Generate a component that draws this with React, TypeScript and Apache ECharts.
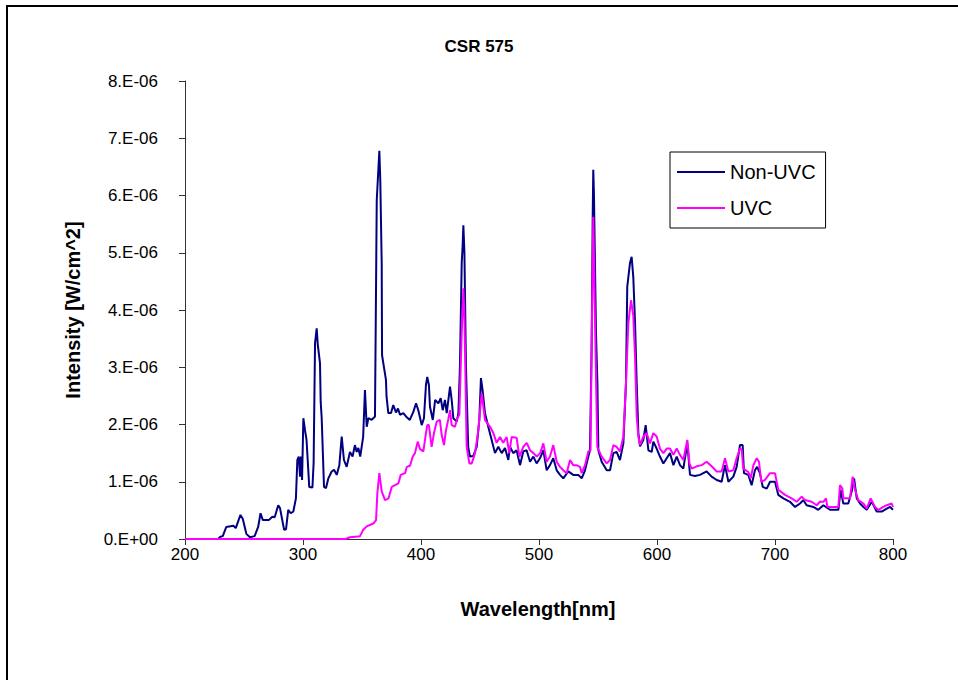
import React, { useEffect, useRef } from "react";
import * as echarts from "echarts";

// Intensity values are in units of 1E-06 W/cm^2
const nonUvcPoints: [number, number][] = [
  [200, 0], [228, 0], [230, 0.04], [232, 0.05], [235, 0.21], [241, 0.23], [243, 0.19], [247, 0.42], [249, 0.35],
  [252, 0.09], [255, 0.03], [259, 0.05], [262, 0.21], [264, 0.45], [266, 0.33], [271, 0.33], [274, 0.39], [276, 0.38],
  [279, 0.59], [280.5, 0.54], [284, 0.16], [285.6, 0.17], [287.5, 0.51], [289.6, 0.45], [291.8, 0.48], [294, 0.71],
  [295.2, 1.38], [296.4, 1.44], [297.5, 1.09], [298.3, 1.44], [299.2, 1.03], [300.3, 2.11], [301.7, 1.9], [303, 1.73],
  [305.3, 0.91], [308, 0.9], [309, 1.33], [310.2, 3.42], [311.6, 3.68], [312.5, 3.4], [314.4, 3.07], [315, 2.39],
  [315.8, 2.13], [317.8, 0.91], [319.5, 0.89], [321.5, 1.06], [324.3, 1.18], [326.3, 1.21], [328.6, 1.12], [330.8, 1.29],
  [332.8, 1.79], [334.7, 1.38], [337, 1.26], [339.8, 1.52], [342, 1.44], [344, 1.64], [345.5, 1.52], [346.9, 1.59],
  [348.5, 1.44], [351, 1.79], [352.5, 2.6], [354, 1.96], [355.4, 2.11], [358.2, 2.08], [361, 2.14], [362.5, 5.92],
  [364.7, 6.78], [365.5, 6.27], [366.7, 4.82], [367, 3.21], [370.3, 2.78], [370.8, 2.49], [372.3, 2.2], [374.6, 2.2],
  [376.5, 2.34], [378.8, 2.21], [380.5, 2.28], [382.2, 2.17], [385, 2.2], [387.3, 2.14], [390.5, 2.08], [393.5, 2.22],
  [395.8, 2.37], [397.7, 2.25], [400.6, 1.99], [402.5, 2.11], [404.2, 2.69], [405.3, 2.83], [406.7, 2.69], [407.6, 2.31],
  [410, 2.08], [412, 2.43], [414.7, 2.37], [416.7, 2.46], [418.4, 2.25], [420.3, 2.43], [421.8, 2.2], [424.6, 2.66],
  [426, 2.43], [427.4, 2.11], [430.3, 2.05], [431.7, 2.2], [433, 3.01], [434.5, 4.82], [435.2, 5.08], [435.9, 5.48],
  [436.8, 5.0], [438.1, 3.01], [440, 1.61], [441.5, 1.44], [444.3, 1.45], [447.2, 1.61], [449.4, 2.08], [450.8, 2.81],
  [452.2, 2.6], [454.2, 2.2], [457, 1.96], [459.9, 1.73], [462.7, 1.5], [465.5, 1.61], [468.4, 1.5], [471.2, 1.59],
  [474, 1.38], [475.4, 1.61], [478.2, 1.5], [481, 1.55], [483.9, 1.29], [486.7, 1.53], [489.5, 1.55], [492.4, 1.35],
  [495.2, 1.44], [498, 1.32], [500.8, 1.41], [503.7, 1.55], [506.5, 1.2], [509.3, 1.29], [512.1, 1.41], [515, 1.2],
  [517.8, 1.12], [520.6, 1.06], [524.8, 1.18], [529, 1.12], [533.3, 1.12], [536.2, 1.06], [539, 1.2], [541.8, 1.44],
  [543.2, 1.55], [544.6, 3.36], [545.5, 5.63], [546, 6.45], [546.6, 5.99], [548.3, 3.59], [549.5, 2.72], [550.3, 1.55],
  [553.1, 1.35], [557.4, 1.2], [560.2, 1.2], [563, 1.5], [565.8, 1.52], [568.6, 1.38], [571.5, 1.67], [573.7, 2.72],
  [574.8, 4.41], [577.1, 4.82], [578.5, 4.93], [579.9, 4.58], [581.4, 3.77], [582.8, 2.72], [584.2, 1.85], [585.6, 1.62],
  [588.4, 1.73], [590.4, 1.99], [592.7, 1.55], [595.5, 1.52], [596.9, 1.7], [599.7, 1.58], [602.5, 1.44], [605.4, 1.32],
  [608.2, 1.41], [611, 1.5], [613.9, 1.29], [616.7, 1.44], [619.5, 1.29], [622.3, 1.23], [625.7, 1.67], [628, 1.12],
  [632.2, 1.1], [636.4, 1.12], [642.1, 1.18], [646.3, 1.09], [650.6, 1.03], [654.8, 1.0], [657.6, 1.29], [660.5, 1.0],
  [664.7, 1.09], [667.5, 1.26], [670.3, 1.64], [672.6, 1.64], [673.7, 1.15], [677.4, 1.12], [680.2, 0.94], [683, 1.2],
  [684.9, 1.26], [687.2, 1.15], [689.6, 0.91], [693, 0.88], [695.8, 1.0], [700, 1.0], [702.8, 0.77], [707.1, 0.71],
  [712.7, 0.65], [717, 0.56], [721.2, 0.62], [724, 0.68], [726.8, 0.59], [732.5, 0.56], [736.7, 0.51], [741, 0.59],
  [746.6, 0.51], [753.7, 0.51], [755.6, 0.86], [757.9, 0.62], [762.1, 0.62], [765, 0.83], [767, 1.06], [769.3, 0.71],
  [772.1, 0.62], [775, 0.56], [777.7, 0.51], [782, 0.65], [786.2, 0.48], [790.4, 0.48], [794.7, 0.53], [797.5, 0.56],
  [800, 0.51],
];

const uvcPoints: [number, number][] = [
  [200, 0], [336, 0], [339.8, 0.03], [348.3, 0.05], [351, 0.16], [354, 0.22], [359.6, 0.27], [361.9, 0.33], [363, 0.8],
  [364.7, 1.15], [366.7, 0.83], [369.5, 0.68], [372.5, 0.71], [375.2, 0.91], [378, 0.94], [380.8, 0.97], [382.8, 1.12],
  [386.6, 1.15], [387.9, 1.26], [390.7, 1.28], [393, 1.44], [394.9, 1.5], [397.2, 1.7], [399.2, 1.57], [402, 1.53],
  [404.2, 1.85], [405.3, 1.99], [406.7, 1.99], [409, 1.61], [411, 1.85], [413.3, 2.05], [416, 2.08], [417.5, 1.82],
  [419.5, 1.64], [421.2, 1.9], [423, 2.08], [424.6, 2.25], [426, 1.99], [428.8, 1.96], [430.7, 2.11], [432.5, 2.17],
  [434.5, 3.6], [435.9, 4.38], [436.8, 3.87], [438.7, 1.61], [441, 1.32], [443, 1.32], [445.8, 1.5], [448.6, 1.9],
  [451.4, 2.55], [452.5, 2.37], [454.2, 2.08], [458.5, 1.96], [461.3, 1.85], [464.1, 1.68], [466.9, 1.78], [469.7, 1.68],
  [472.6, 1.78], [474.8, 1.5], [476.8, 1.78], [481, 1.77], [483.4, 1.44], [486.7, 1.61], [489.6, 1.68], [492.4, 1.55],
  [495.3, 1.5], [498.1, 1.44], [501, 1.5], [503.7, 1.67], [506.5, 1.35], [509.3, 1.44], [512.1, 1.64], [515, 1.35],
  [517.8, 1.26], [520.6, 1.2], [523.4, 1.15], [526.3, 1.38], [529, 1.29], [531.8, 1.29], [534.7, 1.26], [536.2, 1.15],
  [539, 1.29], [541.8, 1.53], [543.7, 1.55], [544.6, 3.36], [546, 5.63], [547.5, 3.77], [549.4, 1.61], [553.1, 1.44],
  [557.4, 1.32], [560.2, 1.38], [563, 1.64], [565.8, 1.61], [568.6, 1.53], [571.5, 1.79], [573.7, 2.72], [575.7, 3.77],
  [578, 4.17], [579.9, 3.9], [581.4, 3.18], [582.8, 2.14], [584.2, 1.79], [585.6, 1.64], [588.4, 1.79], [591.2, 1.85],
  [594, 1.67], [596.9, 1.85], [599.7, 1.79], [602.5, 1.58], [605.4, 1.5], [608.2, 1.58], [611, 1.58], [613.9, 1.47],
  [616.7, 1.58], [619.5, 1.47], [622.3, 1.38], [625.7, 1.73], [627.5, 1.32], [629.4, 1.23], [633.6, 1.27], [637.9, 1.29],
  [642.1, 1.35], [646.3, 1.27], [650.6, 1.18], [654.8, 1.18], [657.6, 1.41], [660.5, 1.18], [664.7, 1.2], [667.5, 1.41],
  [670.3, 1.58], [671.8, 1.56], [673.1, 1.23], [677.4, 1.17], [679.4, 1.06], [681.7, 1.29], [684.5, 1.41], [686.4, 1.35],
  [688.4, 1.0], [691.3, 1.03], [695.8, 1.15], [700, 1.15], [702.8, 0.86], [708.5, 0.77], [714.1, 0.71], [718.4, 0.65],
  [722.6, 0.74], [725.4, 0.68], [731.1, 0.65], [735.3, 0.59], [738.1, 0.65], [741, 0.65], [743.2, 0.71], [744.4, 0.56],
  [750.9, 0.56], [753.7, 0.56], [755.1, 0.94], [757.1, 0.88], [757.9, 0.71], [763.6, 0.71], [765.8, 1.09], [767.8, 0.86],
  [770.6, 0.68], [775, 0.62], [777.7, 0.53], [781.1, 0.71], [784.7, 0.56], [787.6, 0.51], [791.8, 0.56], [794.7, 0.59],
  [798.9, 0.62], [800, 0.56],
];

const seriesNames = ["Non-UVC", "UVC"];
const seriesColors = ["#000080", "#FF00FF"];
const titleText = "CSR 575";
const xAxisTitle = "Wavelength[nm]";
const yAxisTitle = "Intensity [W/cm^2]";

const FONT = "'Liberation Sans', Arial, sans-serif";

export default function App() {
  const ref = useRef<HTMLDivElement>(null);
  useEffect(() => {
    if (!ref.current) return;
    const chart = echarts.init(ref.current, null, { renderer: "svg" });
    chart.setOption({
      animation: false,
      backgroundColor: "#ffffff",
      textStyle: { fontFamily: FONT },
      title: {
        text: titleText,
        left: "center",
        top: 33,
        textStyle: { fontSize: 17, fontWeight: "bold", color: "#000", fontFamily: FONT },
      },
      grid: { left: 185, right: 65, top: 81, bottom: 141 },
      xAxis: {
        type: "value",
        min: 200,
        max: 800,
        interval: 100,
        axisLine: { show: true, lineStyle: { color: "#333", width: 1 } },
        axisTick: { show: true, length: 6, lineStyle: { color: "#333" } },
        axisLabel: { fontSize: 17, color: "#000", margin: 7, fontFamily: FONT },
        splitLine: { show: false },
      },
      yAxis: {
        type: "value",
        min: 0,
        max: 8,
        interval: 1,
        axisLine: { show: true, lineStyle: { color: "#333", width: 1 } },
        axisTick: { show: true, length: 6, lineStyle: { color: "#333" } },
        axisLabel: {
          fontSize: 17,
          color: "#000",
          margin: 27,
          fontFamily: FONT,
          formatter: (v: number) => (v === 0 ? "0.E+00" : `${v}.E-06`),
        },
        splitLine: { show: false },
      },
      legend: {
        orient: "vertical",
        left: 670,
        top: 152,
        itemWidth: 48,
        itemHeight: 2,
        itemGap: 16,
        icon: "rect",
        padding: [10, 10, 10, 7],
        borderColor: "#000",
        borderWidth: 1,
        backgroundColor: "#fff",
        textStyle: { fontSize: 20, color: "#000", fontFamily: FONT },
        data: seriesNames,
      },
      graphic: [
        {
          type: "rect",
          shape: { x: 7, y: 6, width: 1000, height: 720 },
          style: { fill: "none", stroke: "#000", lineWidth: 2 },
          silent: true,
        },
        {
          type: "text",
          x: 73,
          y: 310,
          rotation: Math.PI / 2,
          style: {
            text: yAxisTitle,
            fontSize: 20,
            fontWeight: "bold",
            fill: "#000",
            fontFamily: FONT,
            align: "center",
            verticalAlign: "middle",
          },
        },
        {
          type: "text",
          x: 538,
          y: 609,
          style: {
            text: xAxisTitle,
            fontSize: 20,
            fontWeight: "bold",
            fill: "#000",
            fontFamily: FONT,
            align: "center",
            verticalAlign: "middle",
          },
        },
      ],
      series: [
        {
          name: seriesNames[0],
          type: "line",
          data: nonUvcPoints,
          symbol: "none",
          showSymbol: false,
          lineStyle: { color: seriesColors[0], width: 2 },
          itemStyle: { color: seriesColors[0] },
        },
        {
          name: seriesNames[1],
          type: "line",
          data: uvcPoints,
          symbol: "none",
          showSymbol: false,
          lineStyle: { color: seriesColors[1], width: 2 },
          itemStyle: { color: seriesColors[1] },
        },
      ],
    });
    return () => chart.dispose();
  }, []);
  return (
    <div
      ref={ref}
      style={{ position: "absolute", left: 0, top: 0, width: 958, height: 680 }}
    />
  );
}
